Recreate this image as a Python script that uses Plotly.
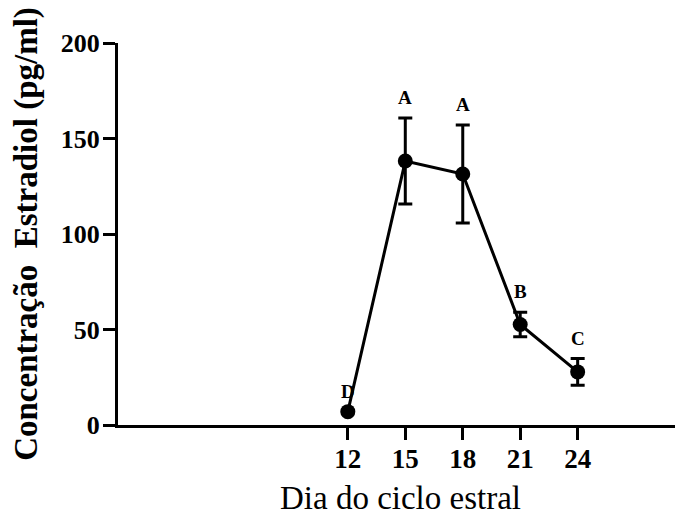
import plotly.graph_objects as go

days = [12, 15, 18, 21, 24]
estradiol = [7, 138.2, 131.4, 52.6, 27.8]
sem = [0, 22.5, 25.7, 6.4, 7.0]
letters = ["D", "A", "A", "B", "C"]
x_ticks = [12, 15, 18, 21, 24]
y_ticks = [0, 50, 100, 150, 200]

SERIF = "Liberation Serif, Times New Roman, serif"

fig = go.Figure()
fig.add_trace(go.Scatter(
    x=days, y=estradiol,
    mode="lines+markers",
    line=dict(color="black", width=3),
    marker=dict(color="black", size=15),
    error_y=dict(type="data", array=sem, visible=True, color="black", thickness=3, width=7),
    cliponaxis=False,
    showlegend=False,
))

for d, v, e, t in zip(days, estradiol, sem, letters):
    fig.add_annotation(x=d, y=v + e, text=t, showarrow=False,
                       yanchor="bottom", yshift=8,
                       font=dict(family=SERIF, size=19, color="black", weight="bold"))

# page body has an 8px default margin, so the figure is sized to fill the rest
fig.update_layout(
    width=675, height=512,
    margin=dict(l=110, r=0, t=35, b=95, autoexpand=False),
    plot_bgcolor="white", paper_bgcolor="white",
    font=dict(family=SERIF, color="black"),
)
fig.update_xaxes(
    range=[0, 29.5], tickvals=x_ticks, ticktext=[str(v) for v in x_ticks],
    showline=True, linecolor="black", linewidth=3,
    ticks="outside", ticklen=12, tickwidth=3, tickcolor="black",
    showgrid=False, zeroline=False, automargin=False,
    tickfont=dict(family=SERIF, size=27, color="black", weight="bold"),
    ticklabelstandoff=-4,
    title=dict(text="Dia do ciclo estral", font=dict(family=SERIF, size=33, color="black"), standoff=13),
)
fig.update_yaxes(
    range=[0, 200], tickvals=y_ticks,
    showline=True, linecolor="black", linewidth=3,
    ticks="outside", ticklen=12, tickwidth=3, tickcolor="black",
    showgrid=False, zeroline=False, automargin=False,
    tickfont=dict(family=SERIF, size=26, color="black", weight="bold"),
    ticklabelstandoff=-2,
    title=dict(text="Concentração\u00a0\u00a0Estradiol (pg/ml)",
               font=dict(family=SERIF, size=33, color="black", weight="bold"), standoff=22),
)

fig.write_html("out.html")
